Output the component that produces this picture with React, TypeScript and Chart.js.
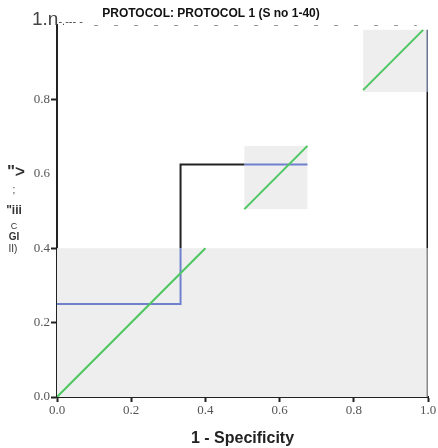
import React, { useEffect, useRef } from "react";
import { Chart, registerables } from "chart.js";

Chart.register(...registerables);

const titleText = "PROTOCOL: PROTOCOL 1 (S no 1-40)";
const xAxisTitle = "1 - Specificity";
const xTicks = [0, 0.2, 0.4, 0.6, 0.8, 1.0];
const yTicks = [0, 0.2, 0.4, 0.6, 0.8];
const yTopLabel = "1.n";
const yTopTail = "-.--- -";
const yGarbled = ['">', ";", '"iii', "C", "GI", "II)"];

// grey boxes [x0, x1, y0, y1]
const boxes = [
  [0, 1, 0, 0.4],
  [0.505, 0.675, 0.505, 0.675],
  [0.825, 1, 0.82, 0.987],
];

// reference diagonal pieces
const diagA = [{ x: 0, y: 0 }, { x: 0.4, y: 0.4 }];
const diagB = [{ x: 0.505, y: 0.505 }, { x: 0.675, y: 0.675 }];
const diagC = [{ x: 0.825, y: 0.825 }, { x: 0.987, y: 0.987 }];

// ROC step pieces
const rocBlue1 = [{ x: 0, y: 0.25 }, { x: 0.333, y: 0.25 }, { x: 0.333, y: 0.4 }];
const rocBlack1 = [{ x: 0.333, y: 0.4 }, { x: 0.333, y: 0.625 }, { x: 0.505, y: 0.625 }];
const rocBlue2 = [{ x: 0.505, y: 0.625 }, { x: 0.675, y: 0.625 }];
const edgeGrey = [{ x: 1, y: 0 }, { x: 1, y: 0.4 }];
const edgeBlack = [{ x: 1, y: 0.4 }, { x: 1, y: 0.82 }];
const edgeBlue = [{ x: 1, y: 0.82 }, { x: 1, y: 0.987 }];
const topDashed = [{ x: 0.1, y: 1 }, { x: 0.97, y: 1 }];

const GREEN = "#4cc760";
const BLUE = "#6f80cc";

export default function App() {
  const ref = useRef<HTMLCanvasElement>(null);
  useEffect(() => {
    document.body.style.margin = "0";
    const line = (data: any[], color: string, width = 2, dash: number[] = []) => ({
      data,
      borderColor: color,
      backgroundColor: color,
      borderWidth: width,
      borderDash: dash,
      showLine: true,
      pointRadius: 0,
      fill: false,
      tension: 0,
    });
    const bgPlugin = {
      id: "bg",
      beforeDatasetsDraw(chart: any) {
        const { ctx, scales } = chart;
        const xs = scales.x, ys = scales.y;
        ctx.save();
        ctx.fillStyle = "#eeeeee";
        for (const b of boxes) {
          const x0 = xs.getPixelForValue(b[0]);
          const x1 = xs.getPixelForValue(b[1]);
          const y0 = ys.getPixelForValue(b[3]);
          const y1 = ys.getPixelForValue(b[2]);
          ctx.fillRect(x0, y0, x1 - x0, y1 - y0);
        }
        ctx.restore();
      },
      afterDraw(chart: any) {
        const { ctx } = chart;
        ctx.save();
        ctx.fillStyle = "#111";
        ctx.font = "bold 12px 'Liberation Sans', Arial, sans-serif";
        ctx.textAlign = "center";
        ctx.textBaseline = "middle";
        ctx.fillText(titleText, 211, 14);
        ctx.fillStyle = "#444";
        ctx.font = "19px 'Liberation Sans', sans-serif";
        ctx.textAlign = "left";
        ctx.fillText(yTopLabel, 32, 20);
        const w = ctx.measureText(yTopLabel).width;
        ctx.font = "11px 'Liberation Sans', sans-serif";
        ctx.fillText(yTopTail, 32 + w, 22);
        ctx.fillStyle = "#333";
        const ys0 = [172, 190, 211, 227, 237, 249];
        const sizes = [17, 10, 12, 9, 10, 10];
        const xs0 = [16, 14, 14, 14, 14, 13];
        yGarbled.forEach((t, i) => {
          ctx.font = (i === 0 || i === 2 || i === 4 ? "bold " : "") + sizes[i] + "px 'Liberation Sans', sans-serif";
          ctx.textAlign = "center";
          ctx.fillText(t, xs0[i], ys0[i]);
        });
        ctx.restore();
      },
    };
    const chart = new Chart(ref.current!, {
      type: "scatter",
      data: {
        datasets: [
          line(diagA, GREEN),
          line(diagB, GREEN),
          line(diagC, GREEN),
          line(rocBlue1, BLUE),
          line(rocBlack1, "#222"),
          line(rocBlue2, BLUE),
          line(edgeGrey, "#888", 3),
          line(edgeBlack, "#1a1a1a", 3),
          line(edgeBlue, "#6a7590", 3),
          line(topDashed, "#777", 1.5, [4, 16]),
        ] as any,
      },
      plugins: [bgPlugin],
      options: {
        animation: false,
        responsive: false,
        events: [],
        layout: { padding: { top: 25, right: 10, left: 0, bottom: 0 } },
        plugins: { legend: { display: false }, tooltip: { enabled: false }, title: { display: false } },
        scales: {
          x: {
            type: "linear",
            min: 0,
            max: 1,
            afterBuildTicks: (s: any) => { s.ticks = xTicks.map((v) => ({ value: v })); },
            afterFit: (s: any) => { s.height = 51; },
            border: { color: "#222", width: 2 },
            grid: { drawOnChartArea: false, drawTicks: true, tickLength: 5, tickColor: "#222", tickWidth: 2 },
            ticks: {
              color: "#555",
              padding: 1,
              font: { family: "'Liberation Serif', 'DejaVu Serif', serif", size: 13 },
              callback: (v: any) => Number(v).toFixed(1),
            },
            title: {
              display: true,
              text: xAxisTitle,
              color: "#222",
              padding: { top: 6, bottom: 0 },
              font: { family: "'Liberation Sans', Arial, sans-serif", size: 16, weight: "bold" },
            },
          },
          y: {
            type: "linear",
            min: 0,
            max: 1,
            afterBuildTicks: (s: any) => { s.ticks = yTicks.map((v) => ({ value: v })); },
            afterFit: (s: any) => { s.width = 57; },
            border: { color: "#222", width: 2 },
            grid: {
              drawOnChartArea: false,
              drawTicks: true,
              tickLength: 6,
              tickColor: (c: any) => (c.tick && Math.abs(c.tick.value - 0.6) < 1e-6 ? "rgba(0,0,0,0)" : "#222"),
              tickWidth: 2,
            },
            ticks: {
              color: "#555",
              padding: 1,
              font: { family: "'Liberation Serif', 'DejaVu Serif', serif", size: 13 },
              callback: (v: any) => Number(v).toFixed(1),
            },
          },
        },
      } as any,
    });
    return () => chart.destroy();
  }, []);
  return (
    <div style={{ width: 438, height: 448 }}>
      <canvas ref={ref} width={438} height={448} style={{ display: "block", width: 438, height: 448 }} />
    </div>
  );
}
